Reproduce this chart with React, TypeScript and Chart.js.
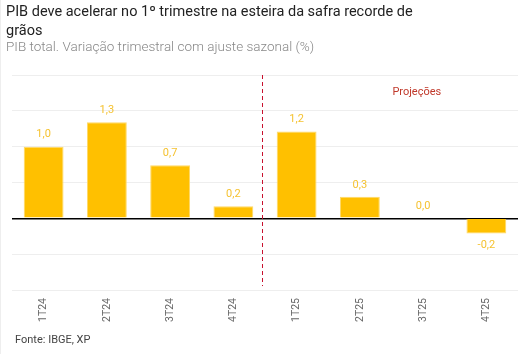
import React, { useEffect, useRef } from "react";
import { Chart, registerables } from "chart.js";

Chart.register(...registerables);

const categories = ["1T24", "2T24", "3T24", "4T24", "1T25", "2T25", "3T25", "4T25"];
const values = [1.0, 1.34, 0.74, 0.17, 1.21, 0.3, 0.0, -0.21];
const title = "PIB deve acelerar no 1º trimestre na esteira da safra recorde de grãos";
const subtitle = "PIB total. Variação trimestral com ajuste sazonal (%)";
const source = "Fonte: IBGE, XP";
const projectionLabel = "Projeções";

const FONT = "Roboto, 'Open Sans', sans-serif";

const overlayPlugin = {
  id: "overlay",
  afterDatasetsDraw(chart: any) {
    const { ctx, chartArea, scales } = chart;
    const x = scales.x.getPixelForValue(3.45);
    ctx.save();
    ctx.strokeStyle = "#C8102E";
    ctx.lineWidth = 1;
    ctx.setLineDash([4, 3]);
    ctx.beginPath();
    ctx.moveTo(Math.round(x) + 0.5, chartArea.top);
    ctx.lineTo(Math.round(x) + 0.5, chartArea.bottom - 4);
    ctx.stroke();
    ctx.setLineDash([]);
    ctx.fillStyle = "#C0392B";
    ctx.font = "11px " + FONT;
    ctx.textAlign = "center";
    ctx.textBaseline = "middle";
    ctx.fillText(projectionLabel, scales.x.getPixelForValue(5.9), chartArea.top + 17);
    // data labels
    const meta = chart.getDatasetMeta(0);
    ctx.fillStyle = "#F5C230";
    ctx.font = "11px " + FONT;
    meta.data.forEach((bar: any, i: number) => {
      const v = values[i];
      const label = v.toFixed(1).replace(".", ",");
      const y = v >= 0 ? bar.y - 12 : bar.y + 12;
      ctx.fillText(label, bar.x, y);
    });
    ctx.restore();
  },
};

export default function App() {
  const ref = useRef<HTMLCanvasElement>(null);
  useEffect(() => {
    if (!ref.current) return;
    const chart = new Chart(ref.current, {
      type: "bar",
      data: {
        labels: categories,
        datasets: [
          {
            data: values,
            backgroundColor: "#FFC000",
            borderColor: "#FFD966",
            borderWidth: 1,
            barPercentage: 0.63,
            categoryPercentage: 1,
          },
        ],
      },
      options: {
        responsive: false,
        animation: false,
        layout: { padding: { left: 11, right: 14, top: 75, bottom: 24 } },
        plugins: { legend: { display: false }, tooltip: { enabled: false } },
        scales: {
          x: {
            grid: { display: false, drawTicks: false },
            border: { display: false },
            ticks: {
              minRotation: 90,
              maxRotation: 90,
              padding: 8,
              color: "#666",
              font: { family: FONT, size: 10.5 },
            },
          },
          y: {
            min: -1,
            max: 2,
            border: { display: false },
            grid: {
              drawTicks: false,
              color: (c: any) => (c.tick && c.tick.value === 0 ? "#000" : "#eeeeee"),
              lineWidth: (c: any) => (c.tick && c.tick.value === 0 ? 1.5 : 1),
            },
            ticks: { display: false, stepSize: 0.5 },
          },
        },
      },
      plugins: [overlayPlugin],
    });
    return () => chart.destroy();
  }, []);

  return (
    <div
      style={{
        position: "absolute",
        left: 0,
        top: 0,
        width: 532,
        height: 354,
        background: "#fff",
        borderLeft: "1px solid #eee",
        boxSizing: "border-box",
        fontFamily: FONT,
      }}
    >
      <canvas ref={ref} width={531} height={354} style={{ position: "absolute", left: 0, top: 0 }} />
      <div
        style={{
          position: "absolute",
          left: 5,
          top: 2,
          width: 415,
          fontSize: 14.5,
          lineHeight: "19px",
          color: "#222",
        }}
      >
        {title}
      </div>
      <div style={{ position: "absolute", left: 5, top: 38, fontSize: 13.5, color: "#888", fontWeight: 300 }}>
        {subtitle}
      </div>
      <div style={{ position: "absolute", left: 14, top: 333, fontSize: 11, color: "#444" }}>{source}</div>
    </div>
  );
}
